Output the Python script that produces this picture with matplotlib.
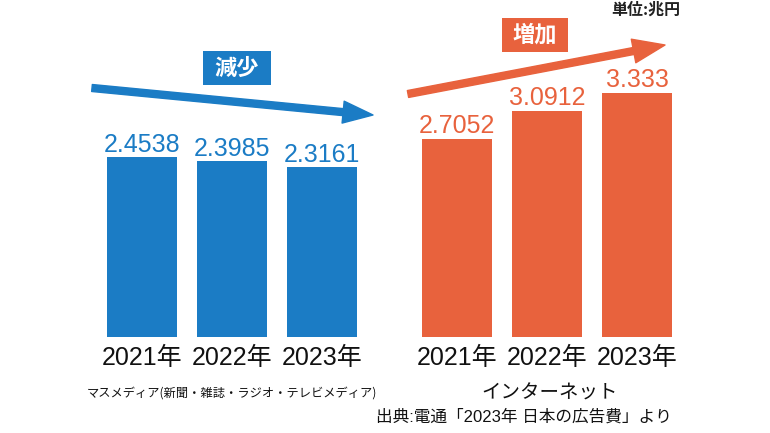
import matplotlib
matplotlib.use('Agg')
import matplotlib.pyplot as plt
from matplotlib.patches import FancyArrowPatch, Rectangle

plt.rcParams['font.family'] = ['Liberation Sans', 'Noto Sans CJK JP']

# data (単位:兆円)
years = ['2021年', '2022年', '2023年']
mass_media = [2.4538, 2.3985, 2.3161]
internet = [2.7052, 3.0912, 3.333]
mass_labels = ['2.4538', '2.3985', '2.3161']
net_labels = ['2.7052', '3.0912', '3.333']
group_names = ['マスメディア(新聞・雑誌・ラジオ・テレビメディア)', 'インターネット']

BLUE = '#1b7cc5'
ORANGE = '#e8623d'

W, H = 770, 433
fig = plt.figure(figsize=(W / 100, H / 100), dpi=100)


def fxy(px, py):
    # pixel position (from top-left) -> figure fraction
    return px / W, 1 - py / H


# axes: bottom of bars at y=337px, 73.2 px per unit, 90 px per category
base = 337
ax = fig.add_axes([0, (H - base) / H, 1, base / H])
ax.set_xlim(-142 / 90, (W - 142) / 90)
ax.set_ylim(0, base / 73.2)
ax.axis('off')

x_mass = [0, 1, 2]
x_net = [3.5, 4.5, 5.5]

ax.bar(x_mass, mass_media, width=0.78, color=BLUE)
ax.bar(x_net, internet, width=0.78, color=ORANGE)

for x, v, s in zip(x_mass, mass_media, mass_labels):
    ax.annotate(s, (x, v), xytext=(0, 4), textcoords='offset points',
                ha='center', va='baseline', fontsize=18, color=BLUE)
for x, v, s in zip(x_net, internet, net_labels):
    ax.annotate(s, (x, v), xytext=(0, 4), textcoords='offset points',
                ha='center', va='baseline', fontsize=18, color=ORANGE)

# year labels under bars
for x, y in zip(x_mass + x_net, years + years):
    ax.annotate(y, (x, 0), xytext=(0, -20), textcoords='offset points',
                ha='center', va='baseline', fontsize=18, color='#111111')

# group names
ax.annotate(group_names[0], (x_mass[1], 0), xytext=(0, -40), textcoords='offset points',
            ha='center', va='center', fontsize=8.8, color='#111111',
            family='Noto Sans CJK JP')
ax.annotate(group_names[1], (x_net[1], 0), xytext=(2, -40), textcoords='offset points',
            ha='center', va='center', fontsize=14, color='#111111',
            family='Noto Sans CJK JP')

# trend arrows
arr_blue = FancyArrowPatch(fxy(92, 88), fxy(373, 115), transform=fig.transFigure,
                           arrowstyle='simple,head_length=30,head_width=22,tail_width=7',
                           mutation_scale=0.72, color=BLUE, shrinkA=0, shrinkB=0)
arr_orange = FancyArrowPatch(fxy(408, 94), fxy(665, 45), transform=fig.transFigure,
                             arrowstyle='simple,head_length=32,head_width=24,tail_width=7',
                             mutation_scale=0.72, color=ORANGE, shrinkA=0, shrinkB=0)
fig.add_artist(arr_blue)
fig.add_artist(arr_orange)

# label boxes
for (x0, y0, x1, y1), txt, c in [((203, 51, 271, 85), '減少', BLUE),
                                  ((502, 18, 568, 52), '増加', ORANGE)]:
    lx, ly = fxy(x0, y1)
    fig.add_artist(Rectangle((lx, ly), (x1 - x0) / W, (y1 - y0) / H,
                             transform=fig.transFigure, color=c, lw=0))
    cx, cy = fxy((x0 + x1) / 2, (y0 + y1) / 2)
    fig.text(cx, cy, txt, ha='center', va='center', fontsize=16, color='white',
             fontweight='bold', family='Noto Sans CJK JP')

tx, ty = fxy(680, 10)
fig.text(tx, ty, '単位:兆円', ha='right', va='center', fontsize=11.5,
         fontweight='bold', color='#222222', family='Noto Sans CJK JP')

tx, ty = fxy(672, 417)
fig.text(tx, ty, '出典:電通「2023年 日本の広告費」より', ha='right', va='center',
         fontsize=12, color='#111111', family=['Liberation Sans', 'Noto Sans CJK JP'])

fig.savefig('out.png', dpi=100)
